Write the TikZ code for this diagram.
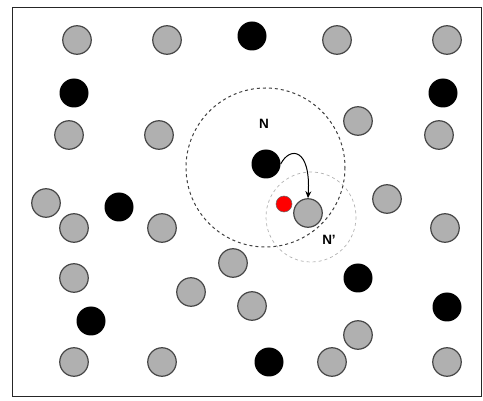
\documentclass[tikz,border=0pt]{standalone}
\usepackage{fontspec}
\setmainfont{Liberation Sans}
\usetikzlibrary{arrows.meta}
\tikzset{
  grayatom/.style={circle,draw=black!72,line width=1.2pt,fill=gray!62,minimum size=28.5pt,inner sep=0pt},
  blackatom/.style={circle,fill=black,minimum size=29pt,inner sep=0pt},
  redatom/.style={circle,draw=black!60,line width=0.5pt,fill=red,minimum size=16pt,inner sep=0pt},
  lbl/.style={font=\fontsize{13.5}{15}\selectfont\bfseries}
}
\begin{document}
\begin{tikzpicture}[x=1pt,y=-1pt]
\useasboundingbox (0,0) rectangle (483,401);
\draw[line width=0.9pt,black!85] (12,7) rectangle (481,396);
% neighbourhoods
\draw[dashed,line width=1pt,black!75] (265.5,167.5) circle (79.5);
\draw[dashed,line width=0.7pt,black!30] (311,217) circle (45);
% atoms
\foreach \x/\y [count=\i] in {77/40,167/40,337/40,447/40,358/121,69/135,159/135,439/135,
  387/199,46/203,74/228,162/228,445/228,233/263,74/278,191/292,252/306,358/335,
  74/362,162/362,332/362,447/362}
  \node[grayatom] (g\i) at (\x,\y) {};
\foreach \x/\y [count=\i] in {252/36,74/93,443/93,119/207,358/278,91/321,447/307,269/362}
  \node[blackatom] (b\i) at (\x,\y) {};
\node[blackatom] (c) at (266,164) {};
\node[grayatom] (t) at (308,213) {};
\node[redatom] (r) at (284,204) {};
\node[lbl] (n) at (264,124) {N};
\node[lbl] (np) at (329,240) {N'};
\draw[-{Stealth[length=7pt,width=6pt]},line width=1pt] (c.east) .. controls (290,146) and (311,148) .. (t.north);
\end{tikzpicture}
\end{document}
